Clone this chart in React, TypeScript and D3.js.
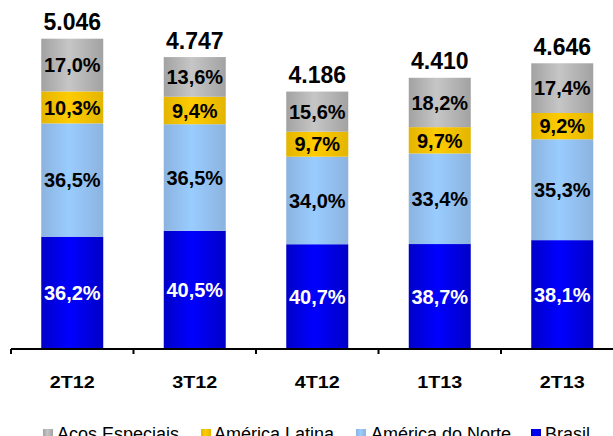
import { useEffect, useRef } from 'react';
import * as d3 from 'd3';

const periods = ['2T12', '3T12', '4T12', '1T13', '2T13'];
const totals = [5046, 4747, 4186, 4410, 4646];
const totalLabels = ['5.046', '4.747', '4.186', '4.410', '4.646'];
const seriesNames = ['Brasil', 'América do Norte', 'América Latina', 'Acos Especiais'];
// percentages per series, bottom to top
const brasil = [36.2, 40.5, 40.7, 38.7, 38.1];
const norte = [36.5, 36.5, 34.0, 33.4, 35.3];
const latina = [10.3, 9.4, 9.7, 9.7, 9.2];
const especiais = [17.0, 13.6, 15.6, 18.2, 17.4];

const App = () => {
    const svgRef = useRef<SVGSVGElement>(null);

    useEffect(() => {
        const w = 613;
        const h = 436;
        const svg = d3.select(svgRef.current);
        svg.selectAll('*').remove();
        svg.attr('width', w).attr('height', h);

        const base = 349;
        const x = d3.scaleBand<string>().domain(periods).range([11, 623.5]);
        const y = d3.scaleLinear().domain([0, 5675]).range([base, 0]);
        const barW = 62;

        //gradients, edges darker than the middle
        const grads = [
            { id: 'g0', edge: '#0000c8', mid: '#0000ff', text: '#ffffff' },
            { id: 'g1', edge: '#8cb3df', mid: '#99ccff', text: '#000000' },
            { id: 'g2', edge: '#e3b500', mid: '#ffcc00', text: '#000000' },
            { id: 'g3', edge: '#a2a2a2', mid: '#c6c6c6', text: '#000000' },
        ];
        const defs = svg.append('defs');
        grads.forEach(g => {
            const lg = defs.append('linearGradient').attr('id', g.id)
                .attr('x1', '0%').attr('x2', '100%').attr('y1', '0%').attr('y2', '0%');
            lg.append('stop').attr('offset', '0%').attr('stop-color', g.edge);
            lg.append('stop').attr('offset', '45%').attr('stop-color', g.mid);
            lg.append('stop').attr('offset', '100%').attr('stop-color', g.edge);
        });

        const pcts = [brasil, norte, latina, especiais];
        const rows = periods.map((p, i) => {
            let acc = 0;
            const segs = pcts.map((s, k) => {
                const v = totals[i] * s[i] / 100;
                const seg = { k, y0: acc, y1: acc + v, pct: s[i] };
                acc += v;
                return seg;
            });
            return { p, i, segs };
        });

        const font = '"Liberation Sans", Arial, sans-serif';

        const g = svg.append('g');
        rows.forEach(r => {
            const cx = x(r.p)! + x.bandwidth() / 2;
            r.segs.forEach(s => {
                g.append('rect')
                    .attr('x', cx - barW / 2)
                    .attr('y', y(s.y1))
                    .attr('width', barW)
                    .attr('height', y(s.y0) - y(s.y1))
                    .attr('fill', `url(#${grads[s.k].id})`);
                g.append('text')
                    .attr('x', cx)
                    .attr('y', (y(s.y0) + y(s.y1)) / 2)
                    .attr('dy', '0.36em')
                    .attr('text-anchor', 'middle')
                    .style('font-family', font)
                    .style('font-weight', 'bold')
                    .style('font-size', '20px')
                    .attr('fill', grads[s.k].text)
                    .text(s.pct.toFixed(1).replace('.', ',') + '%');
            });
            g.append('text')
                .attr('x', cx)
                .attr('y', y(totals[r.i]) - 8.5)
                .attr('text-anchor', 'middle')
                .style('font-family', font)
                .style('font-weight', 'bold')
                .style('font-size', '23px')
                .attr('fill', '#000')
                .text(totalLabels[r.i]);
        });

        //axis
        const ax = svg.append('g');
        ax.append('line').attr('x1', 11).attr('x2', w).attr('y1', base).attr('y2', base)
            .attr('stroke', '#000').attr('stroke-width', 2);
        periods.forEach(p => {
            const tx = x(p)!;
            ax.append('line').attr('x1', tx).attr('x2', tx).attr('y1', base).attr('y2', base + 5)
                .attr('stroke', '#000').attr('stroke-width', 2);
            ax.append('text')
                .attr('x', tx + x.bandwidth() / 2)
                .attr('y', 388)
                .attr('text-anchor', 'middle')
                .attr('textLength', 45)
                .attr('lengthAdjust', 'spacingAndGlyphs')
                .style('font-family', font)
                .style('font-weight', 'bold')
                .style('font-size', '16.5px')
                .text(p);
        });

        //legend
        const legend = [
            { k: 3, sx: 43, tx: 57 },
            { k: 2, sx: 201, tx: 214 },
            { k: 1, sx: 356, tx: 371 },
            { k: 0, sx: 531, tx: 545 },
        ];
        legend.forEach(l => {
            svg.append('rect').attr('x', l.sx).attr('y', 429).attr('width', 10).attr('height', 10)
                .attr('fill', `url(#${grads[l.k].id})`);
            svg.append('text').attr('x', l.tx).attr('y', 440)
                .style('font-family', font)
                .style('font-size', '18px')
                .attr('fill', '#000')
                .text(seriesNames[l.k]);
        });
    }, []);

    return (
        <svg ref={svgRef} style={{ position: 'absolute', left: 0, top: 0 }}></svg>
    );
};

export default App;
